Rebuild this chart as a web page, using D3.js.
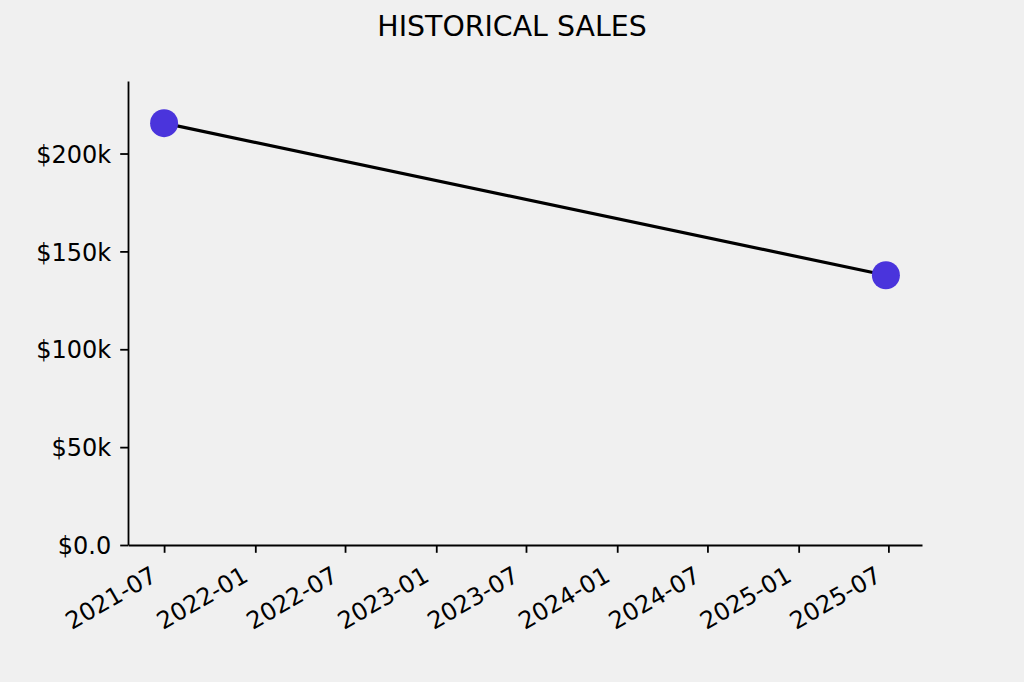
<!DOCTYPE html>
<html><head><meta charset="utf-8">
<script src="https://cdn.jsdelivr.net/npm/d3@7"></script>
<style>
html,body{margin:0;padding:0;background:#f0f0f0;}
svg{display:block;}
text{font-family:"DejaVu Sans",sans-serif;fill:#000;}
</style></head>
<body>
<script>
const dates = ["2021-07-01", "2025-06-26"];
const sales = [215500, 137800];
const yTickValues = [0, 50000, 100000, 150000, 200000];
const yTickLabels = ["$0.0", "$50k", "$100k", "$150k", "$200k"];
const title = "HISTORICAL SALES";

const W = 1024, H = 682;
const m = {left:128, right:W-922, top:81, bottom:H-545};
const parse = d3.timeParse("%Y-%m-%d");
const data = dates.map((d,i)=>({date:parse(d), value:sales[i]}));

const svg = d3.select("body").append("svg").attr("width",W).attr("height",H);
svg.append("rect").attr("width",W).attr("height",H).attr("fill","#f0f0f0");

const ext = d3.extent(data, d=>d.date);
const span = ext[1]-ext[0];
const x = d3.scaleTime()
  .domain([new Date(+ext[0]-span*0.05), new Date(+ext[1]+span*0.05)])
  .range([m.left, W-m.right]);
const y = d3.scaleLinear()
  .domain([0, d3.max(sales)*1.1])
  .range([H-m.bottom, m.top]);

// title
svg.append("text").attr("x",W/2).attr("y",36)
  .attr("text-anchor","middle").style("font-size","28.4px").text(title);

// x axis
const xAxis = d3.axisBottom(x).ticks(d3.timeMonth.every(6))
  .tickFormat(d3.timeFormat("%Y-%m")).tickSizeInner(7.8).tickSizeOuter(0).tickPadding(5);
const gx = svg.append("g").attr("transform",`translate(0,${H-m.bottom})`).call(xAxis);
gx.select(".domain").attr("stroke","#000").attr("stroke-width",1.8);
gx.selectAll(".tick line").attr("stroke","#000").attr("stroke-width",1.8);
gx.selectAll(".tick text").style("font-size","24px").attr("fill","#000")
  .attr("text-anchor","end").attr("dy",null).attr("y",0)
  .attr("transform","translate(-6,35) rotate(-30)");

// y axis
const yAxis = d3.axisLeft(y).tickValues(yTickValues)
  .tickFormat((d,i)=>yTickLabels[i]).tickSizeInner(7.8).tickSizeOuter(0).tickPadding(9);
const gy = svg.append("g").attr("transform",`translate(${m.left},0)`).call(yAxis);
gy.select(".domain").attr("stroke","#000").attr("stroke-width",1.8);
gy.selectAll(".tick line").attr("stroke","#000").attr("stroke-width",1.8);
gy.selectAll(".tick text").style("font-size","24px").attr("fill","#000").attr("dy","0.36em");

// line
const line = d3.line().x(d=>x(d.date)).y(d=>y(d.value));
svg.append("path").datum(data).attr("d",line).attr("fill","none")
  .attr("stroke","#000").attr("stroke-width",3.2);

// points
svg.selectAll("circle.pt").data(data).enter().append("circle").attr("class","pt")
  .attr("cx",d=>x(d.date)).attr("cy",d=>y(d.value)).attr("r",14)
  .attr("fill","#4a34dc");
</script>
</body></html>
